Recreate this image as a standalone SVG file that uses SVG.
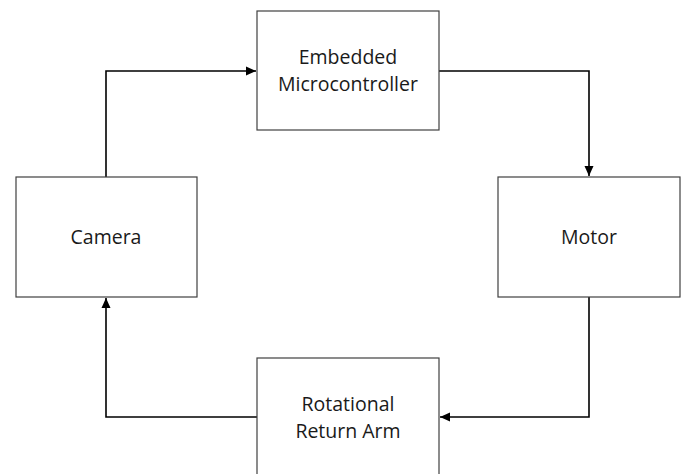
<svg xmlns="http://www.w3.org/2000/svg" width="681" height="474" viewBox="0 0 681 474">
<style>
.box{fill:#fff;stroke:#404040;stroke-width:1.2}
.lbl{font-family:"Open Sans","Liberation Sans",sans-serif;font-size:19.5px;fill:#1a1a1a;text-anchor:middle}
.wire{fill:none;stroke:#000;stroke-width:1.6}
</style>
<defs>
<marker id="ah" viewBox="0 0 10 10" refX="10" refY="5" markerWidth="10" markerHeight="10" markerUnits="userSpaceOnUse" orient="auto">
<path d="M0,0.5 L10,5 L0,9.5 Z" fill="#000"/>
</marker>
</defs>
<rect width="681" height="474" fill="#fff"/>
<g id="connectors">
<path class="wire" d="M106,177 V71 H256" marker-end="url(#ah)"/>
<path class="wire" d="M439,71 H589 V176" marker-end="url(#ah)"/>
<path class="wire" d="M589,297 V417 H440" marker-end="url(#ah)"/>
<path class="wire" d="M257,417 H106 V298" marker-end="url(#ah)"/>
</g>
<g id="embedded">
<rect class="box" x="257" y="11" width="182" height="119"/>
<text class="lbl" x="348" y="64">Embedded</text>
<text class="lbl" x="348" y="91">Microcontroller</text>
</g>
<g id="camera">
<rect class="box" x="16" y="177" width="181" height="120"/>
<text class="lbl" x="106" y="244">Camera</text>
</g>
<g id="motor">
<rect class="box" x="498" y="177" width="182" height="120"/>
<text class="lbl" x="589" y="244">Motor</text>
</g>
<g id="arm">
<rect class="box" x="257" y="358" width="182" height="120"/>
<text class="lbl" x="348" y="411">Rotational</text>
<text class="lbl" x="348" y="438">Return Arm</text>
</g>
</svg>
